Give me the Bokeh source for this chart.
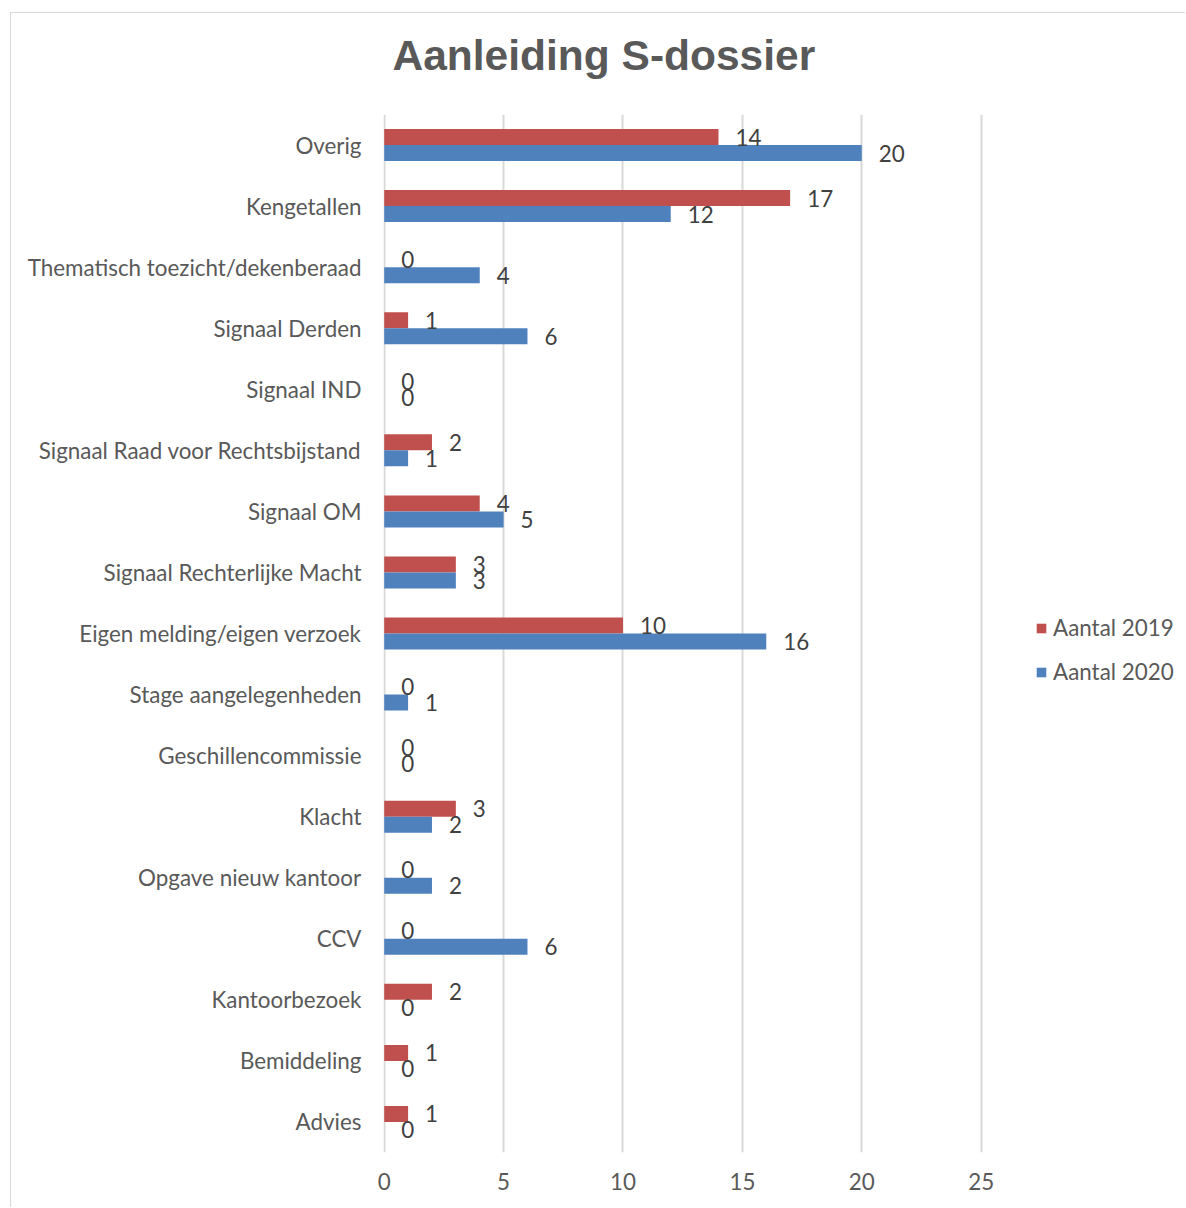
from bokeh.plotting import figure
from bokeh.models import ColumnDataSource, FactorRange, Legend, LegendItem, Title
from bokeh.transform import dodge
from bokeh.core.properties import value
from bokeh.embed import file_html
from bokeh.resources import INLINE

categories = ["Overig", "Kengetallen", "Thematisch toezicht/dekenberaad", "Signaal Derden",
              "Signaal IND", "Signaal Raad voor Rechtsbijstand", "Signaal OM",
              "Signaal Rechterlijke Macht", "Eigen melding/eigen verzoek",
              "Stage aangelegenheden", "Geschillencommissie", "Klacht",
              "Opgave nieuw kantoor", "CCV", "Kantoorbezoek", "Bemiddeling", "Advies"]
aantal_2019 = [14, 17, 0, 1, 0, 2, 4, 3, 10, 0, 0, 3, 0, 0, 2, 1, 1]
aantal_2020 = [20, 12, 4, 6, 0, 1, 5, 3, 16, 1, 0, 2, 2, 6, 0, 0, 0]
x_ticks = [0, 5, 10, 15, 20, 25]

RED = "#C0504D"
BLUE = "#4F81BD"
LABEL_FONT = "Lato"
FS = "22.4px"

src = ColumnDataSource(dict(cat=categories, v19=aantal_2019, v20=aantal_2020,
                            t19=[str(v) for v in aantal_2019],
                            t20=[str(v) for v in aantal_2020]))

# frame extends to the right so the legend can sit inside it; axis/grid stop at 25
p = figure(width=1175, height=1195, output_backend="svg", toolbar_location=None,
           y_range=FactorRange(factors=list(reversed(categories))),
           x_range=(-0.03, 33.39),
           min_border_left=372, min_border_right=5, min_border_top=101,
           min_border_bottom=56)
p.styles = {"margin-left": "10px", "margin-top": "12px",
            "border-left": "1px solid #d9d9d9", "border-top": "1px solid #d9d9d9"}
p.outline_line_color = None
p.background_fill_color = "white"
p.border_fill_color = "white"

p.title.text = "Aanleiding S-dossier"
p.title.align = "left"
p.title.offset = 9
p.title.vertical_align = "bottom"
p.title.standoff = 0
p.title.text_font = "Liberation Sans"
p.title.text_font_style = "bold"
p.title.text_font_size = "42.5px"
p.title.text_color = "#595959"

# spacer between frame and title (added later -> sits closer to the frame)
spacer = Title(text=" ", text_font_size="1px", standoff=33)
p.add_layout(spacer, "above")

bh = 0.262
d = 0.131
r19 = p.hbar(y=dodge("cat", d, range=p.y_range), right="v19", left=0, height=bh,
             fill_color=RED, line_color=None, source=src)
r20 = p.hbar(y=dodge("cat", -d, range=p.y_range), right="v20", left=0, height=bh,
             fill_color=BLUE, line_color=None, source=src)

p.text(x="v19", y=dodge("cat", d, range=p.y_range), text="t19", source=src,
       x_offset=17, text_baseline="middle", text_align="left",
       text_font=value(LABEL_FONT), text_font_size=FS, text_color="#404040")
p.text(x="v20", y=dodge("cat", -d, range=p.y_range), text="t20", source=src,
       x_offset=17, text_baseline="middle", text_align="left",
       text_font=value(LABEL_FONT), text_font_size=FS, text_color="#404040")

p.xaxis.ticker = x_ticks
for ax in (p.xaxis[0], p.yaxis[0]):
    ax.axis_line_color = None
    ax.major_tick_line_color = None
    ax.minor_tick_line_color = None
    ax.major_tick_in = 0
    ax.major_tick_out = 0
    ax.major_label_text_font = LABEL_FONT
    ax.major_label_text_font_size = FS
    ax.major_label_text_color = "#595959"
p.xaxis.major_label_standoff = 20
p.yaxis.major_label_standoff = 22

p.xgrid.ticker = x_ticks
p.xgrid.grid_line_color = "#d9d9d9"
p.xgrid.grid_line_width = 2
p.ygrid.grid_line_color = None

legend = Legend(items=[LegendItem(label="Aantal 2019", renderers=[r19]),
                       LegendItem(label="Aantal 2020", renderers=[r20])],
                location=(652, 467), orientation="vertical",
                border_line_color=None, background_fill_alpha=0,
                padding=0, margin=0, spacing=17,
                glyph_width=12, glyph_height=12, label_standoff=6,
                label_text_font=LABEL_FONT, label_text_font_size=FS,
                label_text_color="#595959", label_height=24)
p.add_layout(legend, "center")

open("out.html", "w").write(file_html(p, INLINE))
